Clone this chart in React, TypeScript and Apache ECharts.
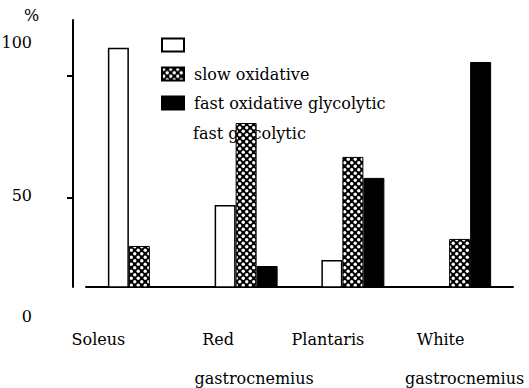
import React, { useEffect, useRef } from 'react';
import * as echarts from 'echarts';

// ---- data ----
const categories = ['Soleus', 'Red\ngastrocnemius', 'Plantaris', 'White\ngastrocnemius'];
const seriesNames = ['fast glycolytic', 'slow oxidative', 'fast oxidative glycolytic'];
const fastGlycolytic = [111.5, 47.1, 24.6, null];
const slowOxidative = [30.3, 80.7, 66.8, 33.2];
const fastOxidativeGlycolytic = [null, 22.1, 58.2, 105.7];
const yTickValues = [50, 100];
const yTickLabels = ['100', '50', '0'];
const yUnit = '%';

// ---- layout / style (kept separate from data) ----
const FONT = 'DejaVu Serif';
const labelShifts = [[-41], [-28, 8], [-25], [-19, 5]];
const yLabelTops = [43, 196, 317];

function makePattern() {
  const s = 7;
  const c = document.createElement('canvas');
  c.width = s;
  c.height = s;
  const ctx = c.getContext('2d')!;
  ctx.fillStyle = '#000';
  ctx.fillRect(0, 0, s, s);
  ctx.fillStyle = '#fff';
  const pts = [[1.75, 1.75], [5.25, 5.25]];
  for (const [x, y] of pts) {
    ctx.beginPath();
    ctx.arc(x, y, 1.7, 0, Math.PI * 2);
    ctx.fill();
  }
  return c;
}

export default function App() {
  const ref = useRef<HTMLDivElement>(null);
  useEffect(() => {
    if (!ref.current) return;
    const chart = echarts.init(ref.current, null, { renderer: 'svg' });
    const pattern = { image: makePattern(), repeat: 'repeat' };

    const rich: Record<string, any> = {};
    categories.forEach((cat, i) => {
      cat.split('\n').forEach((_, j) => {
        const sh = (labelShifts[i] && labelShifts[i][j]) || 0;
        rich[`c${i}_${j}`] = {
          align: 'center',
          fontFamily: FONT,
          fontSize: 16,
          lineHeight: 39,
          color: '#000',
          padding: sh < 0 ? [0, -2 * sh, 0, 0] : [0, 0, 0, 2 * sh],
        };
      });
    });

    const graphics: any[] = [
      {
        type: 'text',
        left: 24,
        top: 7,
        style: { text: yUnit, font: `16px "${FONT}"`, fill: '#000' },
      },
      ...yTickLabels.map((t, i) => ({
        type: 'text',
        right: 529 - 32,
        top: yLabelTops[i] - 9,
        style: { text: t, font: `16px "${FONT}"`, fill: '#000', textAlign: 'right' },
      })),
      {
        type: 'text',
        left: 193,
        top: 125,
        z: 0,
        style: { text: seriesNames[0], font: `16px "${FONT}"`, fill: '#000' },
      },
    ];

    chart.setOption({
      animation: false,
      backgroundColor: '#fff',
      grid: { left: 86, right: 16, top: 20, bottom: 101 },
      legend: {
        orient: 'vertical',
        left: 161,
        top: 37,
        padding: 0,
        icon: 'rect',
        itemWidth: 22,
        itemHeight: 13,
        itemGap: 13,
        data: seriesNames,
        formatter: (name: string) => (name === seriesNames[0] ? ' ' : name),
        textStyle: { fontFamily: FONT, fontSize: 16, color: '#000', padding: [0, 0, 0, 5] },
        selectedMode: false,
      },
      xAxis: {
        type: 'category',
        data: categories,
        axisLine: { show: true, onZero: false, lineStyle: { color: '#000', width: 2 } },
        axisTick: { show: false },
        axisLabel: {
          interval: 0,
          margin: 33,
          formatter: (value: string, index: number) =>
            value
              .split('\n')
              .map((line, j) => `{c${index}_${j}|${line}}`)
              .join('\n'),
          rich,
        },
      },
      yAxis: {
        type: 'value',
        min: 13.5,
        max: 122.9,
        position: 'left',
        offset: 13,
        axisLine: { show: true, lineStyle: { color: '#000', width: 2 } },
        axisTick: {
          show: true,
          customValues: yTickValues,
          length: 6,
          lineStyle: { color: '#000', width: 2 },
        },
        axisLabel: { show: false },
        splitLine: { show: false },
      },
      series: [
        {
          name: seriesNames[0],
          type: 'bar',
          data: fastGlycolytic,
          barWidth: 21,
          barGap: '0%',
          clip: true,
          itemStyle: { color: '#fff', borderColor: '#000', borderWidth: 1.5 },
        },
        {
          name: seriesNames[1],
          type: 'bar',
          data: slowOxidative,
          barWidth: 21,
          barGap: '0%',
          clip: true,
          itemStyle: { color: pattern, borderColor: '#000', borderWidth: 1 },
        },
        {
          name: seriesNames[2],
          type: 'bar',
          data: fastOxidativeGlycolytic,
          barWidth: 21,
          barGap: '0%',
          clip: true,
          itemStyle: { color: '#000', borderColor: '#000', borderWidth: 1 },
        },
      ],
      graphic: graphics,
    });
    return () => chart.dispose();
  }, []);
  return (
    <div
      ref={ref}
      style={{ position: 'fixed', left: 0, top: 0, width: 529, height: 388, background: '#fff' }}
    />
  );
}
